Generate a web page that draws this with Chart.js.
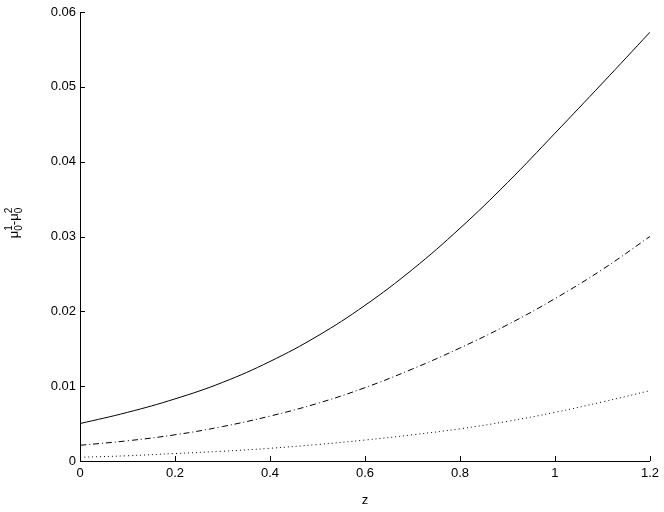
<!DOCTYPE html>
<html>
<head>
<meta charset="utf-8">
<script src="https://cdn.jsdelivr.net/npm/chart.js@4.4.1/dist/chart.umd.min.js"></script>
<style>
  html, body { margin: 0; padding: 0; background: #fff; }
  #wrap { width: 664px; height: 512px; }
</style>
</head>
<body>
<div id="wrap"><canvas id="chart" width="664" height="512"></canvas></div>
<script>
// values
const zValues = [0, 0.1, 0.2, 0.3, 0.4, 0.5, 0.6, 0.7, 0.8, 0.9, 1.0, 1.1, 1.2];
const solidSeries = [0.0050, 0.0065, 0.0083, 0.0105, 0.0133, 0.0167, 0.0208, 0.0256, 0.0311, 0.0372, 0.0438, 0.0505, 0.0573];
const dashDotSeries = [0.0021, 0.0027, 0.0035, 0.0046, 0.0060, 0.0077, 0.0098, 0.0123, 0.0151, 0.0182, 0.0217, 0.0256, 0.0300];
const dottedSeries = [0.0005, 0.0007, 0.0010, 0.0013, 0.0017, 0.0022, 0.0028, 0.0035, 0.0043, 0.0053, 0.0065, 0.0079, 0.0094];

const FONT = '"Liberation Sans", Arial, Helvetica, sans-serif';

function toPoints(ys) {
    return zValues.map((z, i) => ({ x: z, y: ys[i] }));
}

function lineSet(ys, dash) {
    return {
        data: toPoints(ys),
        borderColor: '#000',
        borderWidth: 1,
        borderDash: dash,
        pointRadius: 0,
        fill: false,
        tension: 0.4
    };
}

// tick marks pointing into the plot, like the original
const inwardTicks = {
    id: 'inwardTicks',
    afterDraw(chart) {
        const ctx = chart.ctx;
        const xs = chart.scales.x, ys = chart.scales.y;
        const area = chart.chartArea;
        ctx.save();
        ctx.strokeStyle = '#000';
        ctx.lineWidth = 1;
        ctx.beginPath();
        xs.ticks.forEach(t => {
            const px = Math.round(xs.getPixelForValue(t.value)) + 0.5;
            ctx.moveTo(px, area.bottom);
            ctx.lineTo(px, area.bottom - 5);
        });
        ys.ticks.forEach(t => {
            const py = Math.round(ys.getPixelForValue(t.value)) + 0.5;
            ctx.moveTo(area.left, py);
            ctx.lineTo(area.left + 5, py);
        });
        ctx.stroke();
        ctx.restore();
    }
};

// rotated y label with stacked sub/superscripts
const yLabel = {
    id: 'yLabel',
    afterDraw(chart) {
        const ctx = chart.ctx;
        const big = '13px ' + FONT, small = '10px ' + FONT;
        const parts = [['\u03bc', '1', '0'], ['-'], ['\u03bc', '2', '0']];
        ctx.save();
        let total = 0;
        parts.forEach(p => {
            ctx.font = big;
            total += ctx.measureText(p[0]).width;
            if (p.length > 1) {
                ctx.font = small;
                total += Math.max(ctx.measureText(p[1]).width, ctx.measureText(p[2]).width);
            }
        });
        ctx.translate(18, 223);
        ctx.rotate(-Math.PI / 2);
        ctx.fillStyle = '#000';
        ctx.textBaseline = 'alphabetic';
        ctx.textAlign = 'left';
        let x = -total / 2;
        parts.forEach(p => {
            ctx.font = big;
            ctx.fillText(p[0], x, 0);
            x += ctx.measureText(p[0]).width;
            if (p.length > 1) {
                ctx.font = small;
                ctx.fillText(p[1], x, -6);
                ctx.fillText(p[2], x, 4);
                x += Math.max(ctx.measureText(p[1]).width, ctx.measureText(p[2]).width);
            }
        });
        ctx.restore();
    }
};

new Chart(document.getElementById('chart'), {
    type: 'line',
    data: {
        datasets: [
            lineSet(solidSeries, []),
            lineSet(dashDotSeries, [6, 3, 1, 3]),
            lineSet(dottedSeries, [1, 3])
        ]
    },
    options: {
        responsive: false,
        animation: false,
        layout: { padding: { top: 12, right: 13, left: 0, bottom: 0 } },
        plugins: { legend: { display: false }, tooltip: { enabled: false } },
        scales: {
            x: {
                type: 'linear',
                min: 0,
                max: 1.2,
                grid: { display: false, drawTicks: false, tickLength: 0 },
                border: { display: true, color: '#000', width: 1 },
                ticks: {
                    stepSize: 0.2,
                    color: '#000',
                    font: { family: FONT, size: 13 },
                    padding: 5,
                    maxRotation: 0,
                    callback: v => +v.toFixed(1)
                },
                title: {
                    display: true,
                    text: 'z',
                    color: '#000',
                    font: { family: FONT, size: 13 },
                    padding: { top: 0, bottom: 4 }
                },
                afterFit: s => { s.height = 51; }
            },
            y: {
                min: 0,
                max: 0.06,
                grid: { display: false, drawTicks: false, tickLength: 0 },
                border: { display: true, color: '#000', width: 1 },
                ticks: {
                    stepSize: 0.01,
                    color: '#000',
                    font: { family: FONT, size: 13 },
                    padding: 4,
                    callback: v => +v.toFixed(2)
                },
                afterFit: s => { s.width = 80; }
            }
        }
    },
    plugins: [inwardTicks, yLabel]
});
</script>
</body>
</html>
